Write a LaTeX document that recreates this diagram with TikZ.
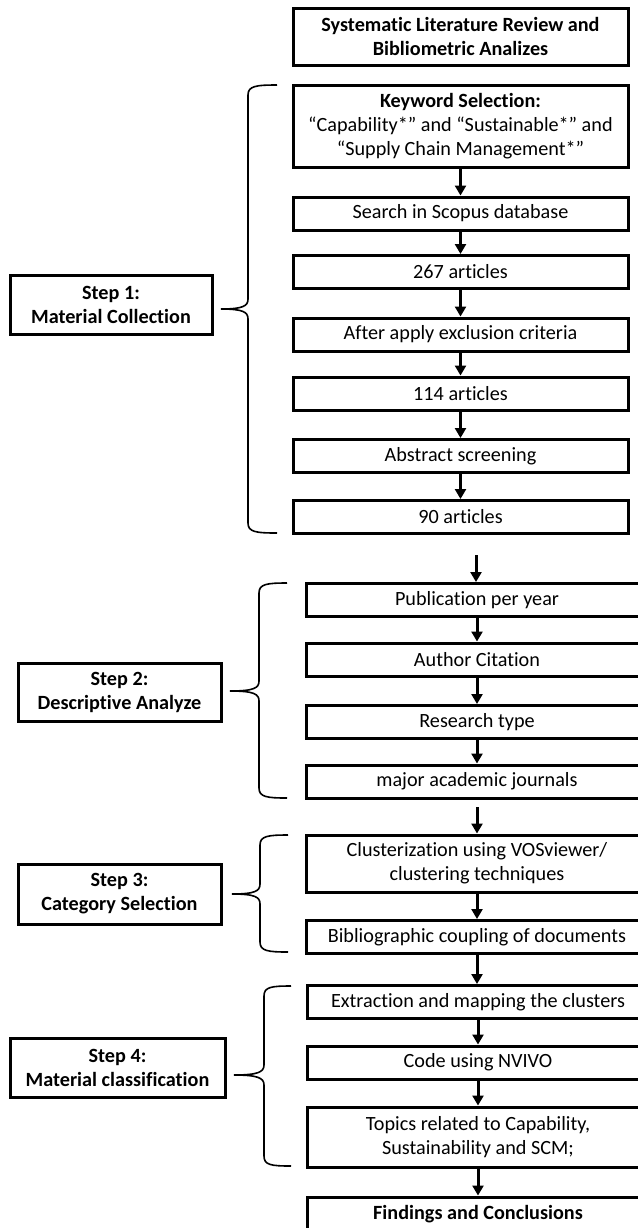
\documentclass[tikz,border=0pt]{standalone}
\usepackage{fontspec}
\setmainfont{Carlito}[Ligatures=NoCommon]
\usepackage{tikz}
\usetikzlibrary{positioning, arrows.meta}

\begin{document}
\begin{tikzpicture}[x=0.5pt, y=-0.5pt, >={Triangle[length=5pt, width=5.5pt]},
  box/.style={draw, line width=1.5pt, align=center, inner sep=1pt, minimum height=16.5pt, font=\fontsize{10.1}{12}\selectfont},
  upbox/.style={box, minimum width=167.5pt},
  lowbox/.style={box, minimum width=171pt},
  stepbox/.style={box, font=\fontsize{10.1}{12}\selectfont\bfseries},
  flow/.style={->, line width=1.5pt},
  curl/.style={line width=0.8pt}]

\useasboundingbox (0,0) rectangle (638,1228);
\clip (0,0) rectangle (638,1228);

% Define nodes
\node[upbox, minimum height=28.5pt, font=\fontsize{10.1}{12}\selectfont\bfseries] (title) at (460.5,36.5) {Systematic Literature Review and\\Bibliometric Analizes};
\node[upbox, minimum height=41pt] (kw) at (460.5,126) {\textbf{Keyword Selection:}\\“Capability*” and “Sustainable*” and\\“Supply Chain Management*”};
\node[upbox] (search) at (460.5,213.5) {Search in Scopus database};
\node[upbox] (a267) at (460.5,272) {267 articles};
\node[upbox] (excl) at (460.5,334.5) {After apply exclusion criteria};
\node[upbox] (a114) at (460.5,393.5) {114 articles};
\node[upbox] (abstr) at (460.5,456) {Abstract screening};
\node[upbox] (a90) at (460.5,517) {90 articles};

\node[lowbox] (pub) at (477,600) {Publication per year};
\node[lowbox] (auth) at (477,659.5) {Author Citation};
\node[lowbox] (rtype) at (477,722) {Research type};
\node[lowbox] (jour) at (477,781.5) {major academic journals};

\node[lowbox, minimum height=28.5pt] (clust) at (477,863.5) {Clusterization using VOSviewer/\\clustering techniques};
\node[lowbox] (biblio) at (477,937) {Bibliographic coupling of documents};

\node[lowbox] (extr) at (478,1002) {Extraction and mapping the clusters};
\node[lowbox] (nvivo) at (478,1062.5) {Code using NVIVO};
\node[lowbox, minimum height=30pt] (topics) at (478,1137) {Topics related to Capability,\\Sustainability and SCM;};
\node[lowbox, minimum height=17pt, font=\fontsize{10.1}{12}\selectfont\bfseries] (find) at (478,1214) {Findings and Conclusions};

\node[stepbox, minimum width=101pt, minimum height=29.5pt] (s1) at (111,304.5) {Step 1:\\Material Collection};
\node[stepbox, minimum width=101.5pt, minimum height=29pt] (s2) at (119.5,692) {Step 2:\\Descriptive Analyze};
\node[stepbox, minimum width=101.5pt, minimum height=30pt] (s3) at (119.5,894) {Step 3:\\Category Selection};
\node[stepbox, minimum width=107.5pt, minimum height=29.5pt] (s4) at (117.5,1067.5) {Step 4:\\Material classification};

\coordinate (in2) at (476,555);
\coordinate (in3) at (477,807);

% Draw edges with arrows
\draw[flow] (kw) -- (search);
\draw[flow] (search) -- (a267);
\draw[flow] (a267) -- (excl);
\draw[flow] (excl) -- (a114);
\draw[flow] (a114) -- (abstr);
\draw[flow] (abstr) -- (a90);
\draw[flow] (in2) -- (pub.north -| in2);
\draw[flow] (pub) -- (auth);
\draw[flow] (auth) -- (rtype);
\draw[flow] (rtype) -- (jour);
\draw[flow] (in3) -- (clust);
\draw[flow] (clust) -- (biblio);
\draw[flow] (biblio) -- (extr.north -| biblio);
\draw[flow] (extr) -- (nvivo);
\draw[flow] (nvivo) -- (topics);
\draw[flow] (topics) -- (find);

% Braces
\draw[curl] (277,85) .. controls (256,85) and (248,86) .. (248,95) -- (248,299) .. controls (248,306) and (243,309) .. (221,309) .. controls (243,309) and (248,312) .. (248,319) -- (248,523) .. controls (248,532) and (256,533) .. (277,533);
\draw[curl] (287,583) .. controls (267,583) and (259,584) .. (259,593) -- (259,681) .. controls (259,688) and (254,691) .. (230,691) .. controls (254,691) and (259,694) .. (259,701) -- (259,788) .. controls (259,797) and (267,798) .. (287,798);
\draw[curl] (288,835) .. controls (268,835) and (260,836) .. (260,845) -- (260,884) .. controls (260,891) and (255,894) .. (232,894) .. controls (255,894) and (260,897) .. (260,904) -- (260,942) .. controls (260,951) and (268,952) .. (288,952);
\draw[curl] (291,986) .. controls (271,986) and (264,987) .. (264,996) -- (264,1065) .. controls (264,1072) and (258,1075) .. (234,1075) .. controls (258,1075) and (264,1078) .. (264,1085) -- (264,1156) .. controls (264,1165) and (271,1166) .. (291,1166);

\end{tikzpicture}
\end{document}
